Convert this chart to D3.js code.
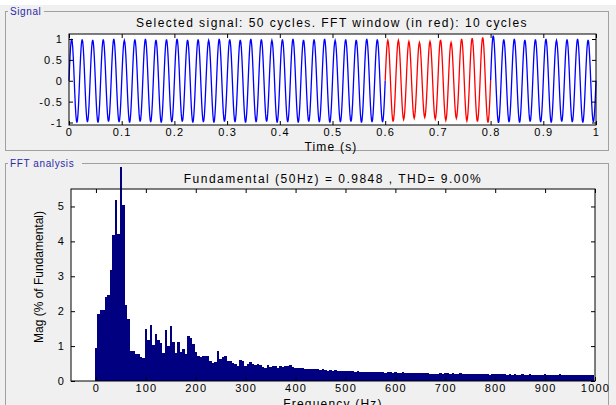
<!DOCTYPE html>
<html>
<head>
<meta charset="utf-8">
<script src="https://cdn.jsdelivr.net/npm/d3@7"></script>
<style>
body{margin:0;background:#f0f0f0;}
svg{display:block;font-family:"Liberation Sans",Arial,sans-serif;}
.tick text{font-size:11px;letter-spacing:1.2px;fill:#000;}
</style>
</head>
<body>
<svg width="616" height="405"></svg>
<script>

// ---- signal panel data ----
var timeTicks = [0,0.1,0.2,0.3,0.4,0.5,0.6,0.7,0.8,0.9,1];
var signalTicks = [-1,-0.5,0,0.5,1];
var cycles = 50;
var fftWindow = [0.6,0.8];   // seconds, drawn in red
// one cycle of the sampled wave (normalised)
var cycleShape = [0,0.31,0.59,0.81,0.95,1,0.95,0.81,0.59,0.31,0,-0.31,-0.59,-0.81,-0.95,-1,-0.95,-0.81,-0.59,-0.31];
// positive / negative peak of each cycle
var posPeaks = [1.00,0.99,0.98,0.99,1.00,0.97,0.99,1.00,0.98,0.99,
                1.00,0.98,0.99,0.97,1.00,0.99,0.98,1.00,0.99,0.97,
                0.99,1.00,0.98,0.99,1.00,0.97,0.99,0.98,1.00,0.99,
                0.97,0.97,0.94,0.92,0.94,0.98,0.92,1.00,1.02,1.04,
                1.08,0.99,1.00,0.98,0.99,1.00,0.97,0.99,1.00,0.98];
var negPeaks = [-1.00,-0.99,-1.00,-0.98,-0.99,-1.00,-0.98,-0.99,-1.00,-0.99,
                -0.98,-1.00,-0.99,-1.00,-0.98,-0.99,-1.00,-0.99,-0.98,-1.00,
                -0.99,-1.00,-0.98,-0.99,-1.00,-0.99,-0.98,-1.00,-0.99,-0.99,
                -0.98,-0.93,-0.90,-0.88,-0.92,-0.95,-0.90,-0.96,-0.98,-1.00,
                -1.01,-0.99,-1.00,-0.98,-0.99,-1.00,-0.98,-0.99,-1.00,-0.99];

// ---- FFT panel data ----
var binStep = 5;  // Hz
var magnitudes = [
 0.94,1.92,2.02,2.04,2.42,2.45,3.19,4.19,5.18,4.22,
 6.14,5.04,2.18,1.78,0.86,0.86,0.77,0.77,0.70,0.65,
 1.48,1.17,1.60,1.03,1.36,1.17,1.10,0.80,1.45,1.01,
 1.58,1.11,0.80,1.11,0.82,0.92,0.78,1.29,1.22,1.05,
 0.82,0.73,0.68,0.73,0.72,0.72,0.57,0.51,0.55,0.87,
 0.62,0.68,0.72,0.58,0.56,0.52,0.49,0.44,0.60,0.56,
 0.43,0.50,0.53,0.50,0.46,0.49,0.46,0.41,0.36,0.46,
 0.41,0.44,0.44,0.36,0.42,0.41,0.42,0.43,0.45,0.40,
 0.37,0.36,0.38,0.36,0.35,0.35,0.34,0.34,0.33,0.33,
 0.32,0.33,0.31,0.30,0.31,0.30,0.31,0.29,0.28,0.28,
 0.30,0.29,0.28,0.28,0.27,0.28,0.27,0.26,0.27,0.26,
 0.27,0.25,0.26,0.25,0.27,0.25,0.24,0.26,0.25,0.24,
 0.26,0.24,0.22,0.25,0.24,0.23,0.24,0.23,0.24,0.23,
 0.24,0.22,0.23,0.22,0.20,0.21,0.19,0.20,0.22,0.21,
 0.23,0.22,0.21,0.22,0.20,0.21,0.22,0.21,0.20,0.21,
 0.20,0.19,0.20,0.21,0.20,0.19,0.20,0.19,0.18,0.20,
 0.19,0.20,0.19,0.20,0.19,0.18,0.19,0.18,0.19,0.17,
 0.18,0.19,0.17,0.18,0.19,0.18,0.17,0.18,0.17,0.18,
 0.19,0.18,0.17,0.18,0.17,0.18,0.19,0.17,0.18,0.17,
 0.16,0.17,0.18,0.17,0.16,0.18,0.17,0.16,0.17,0.16];
var freqTicks = [0,100,200,300,400,500,600,700,800,900,1000];
var magTicks = [0,1,2,3,4,5];

var topTitle = "Selected signal: 50 cycles. FFT window (in red): 10 cycles";
var fftTitle = "Fundamental (50Hz) = 0.9848 , THD= 9.00%";

var svg = d3.select('svg');
var fmt = d => String(d);

// group boxes
function groupBox(y, h, label, labelW){
	svg.append('rect').attr('x',5.5).attr('y',y+0.5).attr('width',603).attr('height',h)
		.attr('fill','none').attr('stroke','#a0a0a0');
	svg.append('rect').attr('x',8).attr('y',y-6).attr('width',labelW).attr('height',12).attr('fill','#f0f0f0');
	svg.append('text').attr('x',10).attr('y',y+4).text(label)
		.style('font-size','10px').style('fill','#2a2aa8').style('letter-spacing','0.6px');
}
svg.append('rect').attr('x',0).attr('y',0).attr('width',616).attr('height',5).attr('fill','#fff');
groupBox(11, 139, 'Signal', 36);
groupBox(163, 260, 'FFT analysis', 74);

// ---------- signal plot ----------
var sx = d3.scaleLinear().domain([0,1]).range([69,596]);
var sy = d3.scaleLinear().domain([-1.06,1.12]).range([125,34]);

svg.append('rect').attr('x',sx(0)).attr('y',sy(1.12)).attr('width',sx(1)-sx(0)).attr('height',sy(-1.06)-sy(1.12))
	.attr('fill','#fff');

var pts = [];
for (var c = 0; c < cycles; c++){
	cycleShape.forEach((s,k) => {
		var amp = s >= 0 ? posPeaks[c] : -negPeaks[c];
		pts.push({t:(c + k/cycleShape.length)/cycles, v:s*amp});
	});
}
pts.push({t:1, v:0});

var line = d3.line().x(d => sx(d.t)).y(d => sy(d.v));
var seg1 = pts.filter(d => d.t <= fftWindow[0]);
var seg2 = pts.filter(d => d.t >= fftWindow[0] && d.t <= fftWindow[1]);
var seg3 = pts.filter(d => d.t >= fftWindow[1]);
[[seg1,'#0000ff'],[seg2,'#ff0000'],[seg3,'#0000ff']].forEach(p => {
	svg.append('path').attr('d',line(p[0])).attr('fill','none').attr('stroke',p[1]).attr('stroke-width',1.3);
});

function frame(x, y, ticksX, ticksY, fx, fy){
	var g = svg.append('g');
	g.append('g').attr('transform',`translate(0,${y.range()[0]})`)
		.call(d3.axisBottom(x).tickValues(ticksX).tickSizeInner(-4).tickSizeOuter(0).tickPadding(3).tickFormat(fx));
	g.append('g').attr('transform',`translate(0,${y.range()[1]})`)
		.call(d3.axisTop(x).tickValues(ticksX).tickSizeInner(-4).tickSizeOuter(0).tickFormat(''));
	g.append('g').attr('transform',`translate(${x.range()[0]},0)`)
		.call(d3.axisLeft(y).tickValues(ticksY).tickSizeInner(-4).tickSizeOuter(0).tickPadding(6).tickFormat(fy));
	g.append('g').attr('transform',`translate(${x.range()[1]},0)`)
		.call(d3.axisRight(y).tickValues(ticksY).tickSizeInner(-4).tickSizeOuter(0).tickFormat(''));
	g.selectAll('.domain').remove();
	g.append('rect').attr('x',x.range()[0]).attr('y',y.range()[1])
		.attr('width',x.range()[1]-x.range()[0]).attr('height',y.range()[0]-y.range()[1])
		.attr('fill','none').attr('stroke','#000');
	return g;
}
frame(sx, sy, timeTicks, signalTicks, fmt, fmt);

svg.append('text').attr('x',332).attr('y',27).attr('text-anchor','middle').text(topTitle)
	.style('font-size','12px').style('letter-spacing','1.45px');
svg.append('text').attr('x',331).attr('y',151).attr('text-anchor','middle').text('Time (s)')
	.style('font-size','12px').style('letter-spacing','1.2px');

// ---------- FFT plot ----------
var fx = d3.scaleLinear().domain([-50,1000]).range([71,595]);
var fy = d3.scaleLinear().domain([0,5.5]).range([381,189]);

svg.append('rect').attr('x',fx(-50)).attr('y',fy(5.5)).attr('width',fx(1000)-fx(-50)).attr('height',fy(0)-fy(5.5))
	.attr('fill','#fff');

svg.append('g').attr('shape-rendering','crispEdges')
	.selectAll('rect').data(magnitudes).enter()
	.append('rect')
	.attr('x',(d,i) => Math.round(fx(i*binStep - binStep/2)))
	.attr('width',(d,i) => Math.round(fx((i+1)*binStep - binStep/2)) - Math.round(fx(i*binStep - binStep/2)))
	.attr('y',d => Math.round(fy(d)))
	.attr('height',d => fy(0) - Math.round(fy(d)))
	.attr('fill','#000080');

frame(fx, fy, freqTicks, magTicks, fmt, fmt);

svg.append('text').attr('x',333).attr('y',183).attr('text-anchor','middle').text(fftTitle)
	.style('font-size','12px').style('letter-spacing','1.5px');
svg.append('text').attr('x',333).attr('y',408).attr('text-anchor','middle').text('Frequency (Hz)')
	.style('font-size','12px').style('letter-spacing','1.2px');
svg.append('text').attr('transform','translate(43,277) rotate(-90)').attr('text-anchor','middle')
	.text('Mag (% of Fundamental)')
	.style('font-family','"Liberation Sans Narrow","Arial Narrow",sans-serif').style('font-size','12px');

</script>
</body>
</html>
